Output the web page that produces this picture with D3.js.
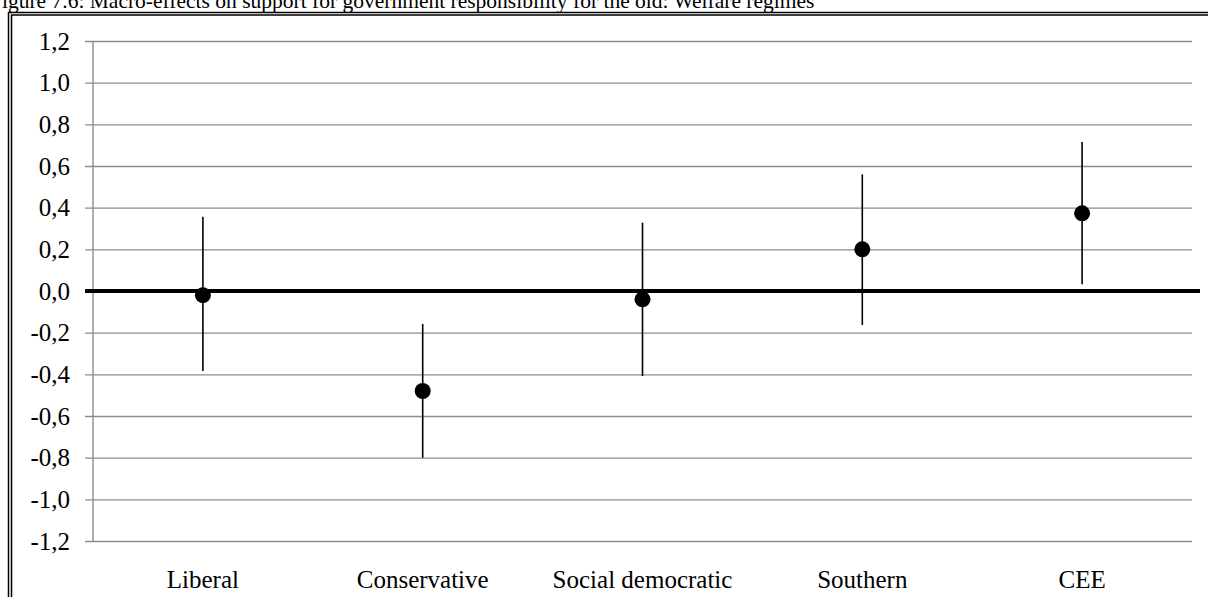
<!DOCTYPE html>
<html>
<head>
<meta charset="utf-8">
<script src="https://cdn.jsdelivr.net/npm/d3@7"></script>
<style>
  body { margin: 0; background: #fff; overflow: hidden; }
  svg { display: block; font-family: "Liberation Serif", "Times New Roman", serif; }
</style>
</head>
<body>
<div id="chart"></div>
<script>
// welfare regimes, point estimate and interval
const categories = ["Liberal", "Conservative", "Social democratic", "Southern", "CEE"];
const estimates = [-0.02, -0.48, -0.04, 0.20, 0.373];
const lower = [-0.384, -0.80, -0.408, -0.163, 0.032];
const upper = [0.357, -0.158, 0.328, 0.56, 0.715];
const yTicks = [-1.2, -1.0, -0.8, -0.6, -0.4, -0.2, 0, 0.2, 0.4, 0.6, 0.8, 1.0, 1.2];
const title = "Figure 7.6: Macro-effects on support for government responsibility for the old: Welfare regimes";

const W = 1208, H = 597;
const margin = { top: 41, left: 93, right: 16, bottom: 56 };
const serif = "'Liberation Serif', 'Times New Roman', serif";

const svg = d3.select("#chart").append("svg")
    .attr("width", W)
    .attr("height", H);

// title, sits right at the top edge like the original
svg.append("text")
    .attr("x", -10)
    .attr("y", 8)
    .attr("font-size", 21.5)
    .attr("font-family", serif)
    .attr("fill", "#000")
    .text(title);

// double frame
svg.append("rect")
    .attr("x", 8.5).attr("y", 12.5)
    .attr("width", 1220).attr("height", 620)
    .attr("fill", "none").attr("stroke", "#000").attr("stroke-width", 1.5);
svg.append("rect")
    .attr("x", 11.5).attr("y", 15)
    .attr("width", 1220).attr("height", 620)
    .attr("fill", "none").attr("stroke", "#000").attr("stroke-width", 1.5);

const x = d3.scaleBand()
    .domain(categories)
    .range([margin.left, W - margin.right]);

const y = d3.scaleLinear()
    .domain([-1.2, 1.2])
    .range([H - margin.bottom, margin.top]);

const fmt = d => d3.format(".1f")(d).replace("−", "-").replace(".", ",");

// gridlines + y axis
const yAxis = svg.append("g")
    .attr("transform", `translate(${margin.left},0)`)
    .call(d3.axisLeft(y)
        .tickValues(yTicks)
        .tickSize(-(W - margin.right - margin.left))
        .tickSizeOuter(0)
        .tickPadding(23)
        .tickFormat(fmt));
yAxis.select(".domain").remove();
yAxis.selectAll(".tick line")
    .attr("x1", -8)
    .attr("stroke", "#8c8c8c")
    .attr("stroke-width", 1.4);
yAxis.selectAll(".tick text")
    .attr("font-family", serif)
    .attr("font-size", 25)
    .attr("fill", "#000");

// vertical axis line
svg.append("line")
    .attr("x1", margin.left).attr("x2", margin.left)
    .attr("y1", y(1.2)).attr("y2", y(-1.2))
    .attr("stroke", "#8c8c8c").attr("stroke-width", 1.4);

// category labels
const xAxis = svg.append("g")
    .attr("transform", `translate(0,${y(-1.2)})`)
    .call(d3.axisBottom(x).tickSize(0).tickPadding(29));
xAxis.select(".domain").remove();
xAxis.selectAll(".tick text")
    .attr("font-family", serif)
    .attr("font-size", 25)
    .attr("fill", "#000");

// zero line
svg.append("line")
    .attr("x1", margin.left - 8).attr("x2", W - 8)
    .attr("y1", y(0)).attr("y2", y(0))
    .attr("stroke", "#000").attr("stroke-width", 4);

const cx = d => x(d) + x.bandwidth() / 2;

// interval lines
svg.append("g").selectAll("line")
    .data(categories)
    .join("line")
    .attr("x1", d => cx(d)).attr("x2", d => cx(d))
    .attr("y1", (d, i) => y(upper[i]))
    .attr("y2", (d, i) => y(lower[i]))
    .attr("stroke", "#000")
    .attr("stroke-width", 1.6);

// point estimates
svg.append("g").selectAll("circle")
    .data(categories)
    .join("circle")
    .attr("cx", d => cx(d))
    .attr("cy", (d, i) => y(estimates[i]))
    .attr("r", 8)
    .attr("fill", "#000");
</script>
</body>
</html>
